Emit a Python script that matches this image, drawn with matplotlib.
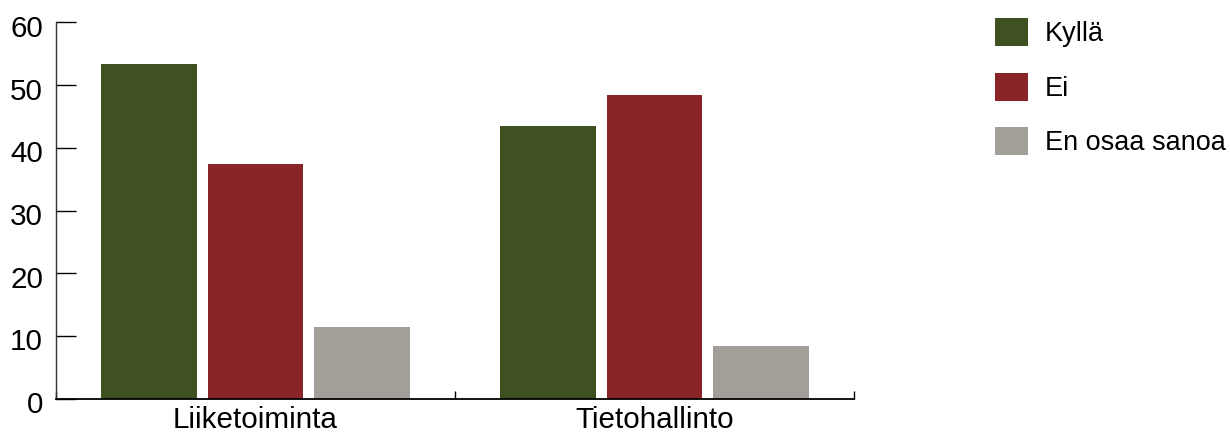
import matplotlib
matplotlib.use("Agg")
import matplotlib.pyplot as plt
import matplotlib.transforms as mtransforms
import numpy as np

categories = ["Liiketoiminta", "Tietohallinto"]
series_names = ["Kyllä", "Ei", "En osaa sanoa"]
kylla = [53.4, 43.5]
ei = [37.4, 48.4]
en_osaa = [11.4, 8.4]
colors = ["#3f5021", "#892429", "#a29f98"]
yticks = [0, 10, 20, 30, 40, 50, 60]

plt.rcParams['font.family'] = ['Liberation Sans', 'DejaVu Sans']

fig = plt.figure(figsize=(12.3, 4.34), dpi=100)
ax = fig.add_axes([56/1230, (434-398.7)/434, (854-56)/1230, (398.7-22.3)/434])

centers = np.arange(len(categories)) + 0.5
width = 0.24
step = 0.266
handles = []
for i, (vals, name, c) in enumerate(zip([kylla, ei, en_osaa], series_names, colors)):
    h = ax.bar(centers + (i - 1) * step, vals, width=width, color=c, label=name, linewidth=0)
    handles.append(h)

ax.set_xlim(0, len(categories))
ax.set_ylim(0, 60)
ax.set_yticks(yticks)
ax.tick_params(axis='y', direction='in', length=14.4, width=1, labelsize=21.3, pad=9.4, colors='black')
ax.set_xticks(np.arange(len(categories) + 1))
ax.set_xticklabels([])
ax.set_xticks(centers, minor=True)
ax.set_xticklabels(categories, minor=True)
ax.tick_params(axis='x', which='major', direction='in', length=5.8, width=1)
ax.tick_params(axis='x', which='minor', length=0, labelsize=21.3, pad=5)
for s in ['top', 'right']:
    ax.spines[s].set_visible(False)
ax.spines['left'].set_color('#333333')
ax.spines['left'].set_linewidth(1)
ax.spines['bottom'].set_color('black')
ax.spines['bottom'].set_linewidth(1.3)

offset = mtransforms.ScaledTranslation(0, -0.035, fig.dpi_scale_trans)
for lbl in ax.get_yticklabels():
    lbl.set_transform(lbl.get_transform() + offset)

leg = ax.legend(handles=handles, loc='upper left', bbox_to_anchor=(995/1230, (434-18)/434),
                bbox_transform=fig.transFigure, frameon=False, fontsize=19.5,
                handlelength=1.22, handleheight=1.22, handletextpad=0.63,
                labelspacing=0.94, borderpad=0, borderaxespad=0)

fig.savefig("out.png", dpi=100)
